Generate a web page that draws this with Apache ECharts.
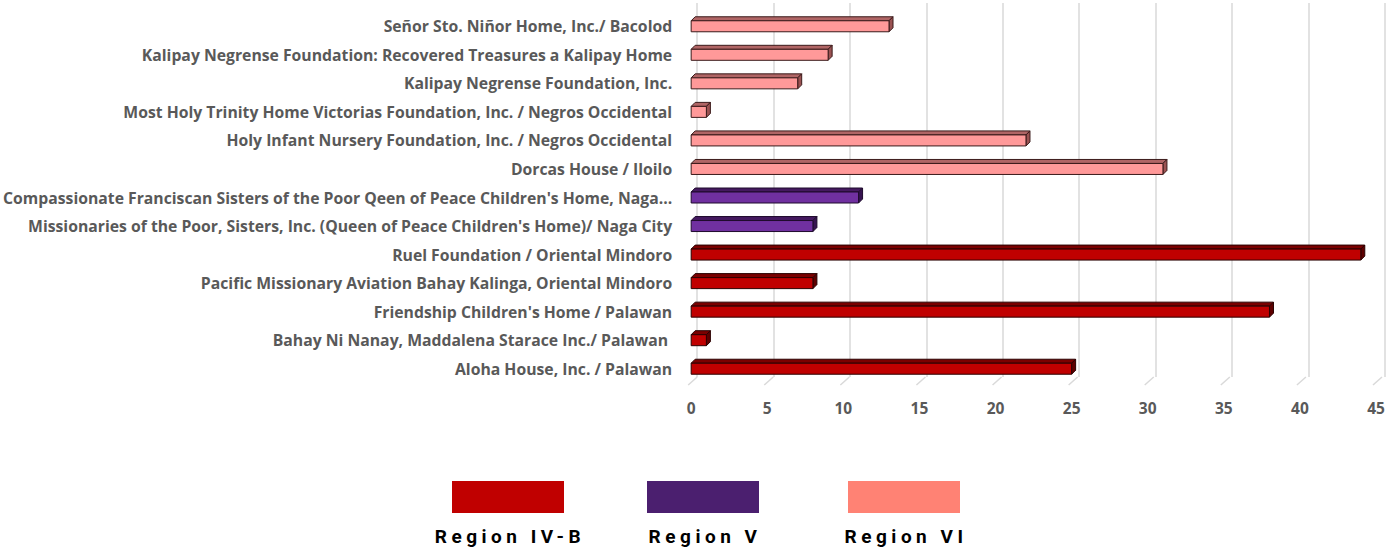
<!DOCTYPE html>
<html>
<head>
<meta charset="utf-8">
<script src="https://cdn.jsdelivr.net/npm/echarts@6/dist/echarts.min.js"></script>
<style>
  html, body { margin: 0; padding: 0; background: #fff; }
  #container { width: 1400px; height: 551px; }
</style>
</head>
<body>
<div id="container"></div>
<script>
let chart = echarts.init(document.getElementById('container'), null, {renderer: 'svg'});

// bottom to top, as the axis reads
var homes = [
    'Aloha House, Inc. / Palawan',
    'Bahay Ni Nanay, Maddalena Starace Inc./ Palawan ',
    "Friendship Children's Home / Palawan",
    'Pacific Missionary Aviation Bahay Kalinga, Oriental Mindoro',
    'Ruel Foundation / Oriental Mindoro',
    "Missionaries of the Poor, Sisters, Inc. (Queen of Peace Children's Home)/ Naga City",
    "Compassionate Franciscan Sisters of the Poor Qeen of Peace Children's Home, Naga...",
    'Dorcas House / Iloilo',
    'Holy Infant Nursery Foundation, Inc. / Negros Occidental',
    'Most Holy Trinity Home Victorias Foundation, Inc. / Negros Occidental',
    'Kalipay Negrense Foundation, Inc.',
    'Kalipay Negrense Foundation: Recovered Treasures a Kalipay Home',
    'Señor Sto. Niñor Home, Inc./ Bacolod'
];
var regionIVB = [25, 1, 38, 8, 44, null, null, null, null, null, null, null, null];
var regionV   = [null, null, null, null, null, 8, 11, null, null, null, null, null, null];
var regionVI  = [null, null, null, null, null, null, null, 31, 22, 1, 7, 9, 13];
var xTicks = [0, 5, 10, 15, 20, 25, 30, 35, 40, 45];

var regions = ['Region IV-B', 'Region V', 'Region VI'];
var legendColors = ['#C00000', '#4B1F6F', '#FF8274'];
// front, top, side, edge
var boxColors = [
    ['#C00000', '#7A0000', '#5E0000', '#2A0000'],
    ['#7030A0', '#44195F', '#361350', '#1E0A2C'],
    ['#FF9999', '#B06565', '#9A5252', '#3A1A1A']
];

var labelFont = '"Open Sans", Lato, sans-serif';

function box(colors) {
    return function (params, api) {
        var v = api.value(0);
        var idx = api.value(1);
        var p0 = api.coord([0, idx]);
        var p1 = api.coord([v, idx]);
        var h = 11, d = 4;
        var x0 = p0[0], x1 = p1[0];
        var yTop = p0[1] - h / 2;
        var style = {stroke: colors[3], lineWidth: 1};
        return {
            type: 'group',
            children: [
                {type: 'polygon', shape: {points: [[x0, yTop], [x1, yTop], [x1 + d, yTop - d], [x0 + d, yTop - d]]},
                 style: Object.assign({fill: colors[1]}, style)},
                {type: 'polygon', shape: {points: [[x1, yTop], [x1 + d, yTop - d], [x1 + d, yTop - d + h], [x1, yTop + h]]},
                 style: Object.assign({fill: colors[2]}, style)},
                {type: 'rect', shape: {x: x0, y: yTop, width: x1 - x0, height: h},
                 style: Object.assign({fill: colors[0]}, style)}
            ]
        };
    };
}

function toData(arr) {
    let out = [];
    arr.forEach((v, i) => {
        if (v != null) out.push([v, i]);
    });
    return out;
}

var series = [];
[regionIVB, regionV, regionVI].forEach((arr, k) => {
    series.push({
        name: regions[k],
        type: 'custom',
        xAxisIndex: 0,
        yAxisIndex: 0,
        animation: false,
        renderItem: box(boxColors[k]),
        encode: {x: 0, y: 1},
        data: toData(arr),
        z: 3
    });
});
// slanted floor lines under the back wall gridlines
series.push({
    type: 'custom',
    xAxisIndex: 0,
    yAxisIndex: 0,
    animation: false,
    silent: true,
    renderItem: function (params, api) {
        var p = api.coord([api.value(0), 0]);
        var bottom = params.coordSys.y + params.coordSys.height;
        return {
            type: 'line',
            shape: {x1: p[0] + 6, y1: bottom - 6, x2: p[0] - 3, y2: bottom + 2},
            style: {stroke: '#D9D9D9', lineWidth: 1.5}
        };
    },
    data: xTicks.map(t => [t]),
    z: 1
});

var legendGraphics = [];
var legendX = [452, 647, 848];
regions.forEach((r, k) => {
    legendGraphics.push({
        type: 'rect', left: legendX[k], top: 481,
        shape: {width: 112, height: 32},
        style: {fill: legendColors[k]}
    });
    legendGraphics.push({
        type: 'text', x: legendX[k] + 58, y: 536,
        style: {
            text: r, fill: '#000', align: 'center', verticalAlign: 'middle',
            font: 'bold 19px Roboto, sans-serif'
        }
    });
});

var option = {
    animation: false,
    grid: [
        {left: 691, width: 685, top: 12, height: 371, containLabel: false},
        {left: 697, width: 688, top: 3, height: 374, containLabel: false}
    ],
    xAxis: [{
        gridIndex: 0,
        type: 'value', min: 0, max: 45, interval: 5,
        axisLine: {show: false}, axisTick: {show: false}, splitLine: {show: false},
        axisLabel: {color: '#595959', fontFamily: labelFont, fontSize: 15.5, fontWeight: 'bold', margin: 17}
    }, {
        gridIndex: 1,
        type: 'value', min: 0, max: 45, interval: 5,
        axisLine: {show: false}, axisTick: {show: false}, axisLabel: {show: false},
        splitLine: {show: true, lineStyle: {color: '#D9D9D9', width: 1.5}}
    }],
    yAxis: [{
        gridIndex: 0,
        type: 'category',
        data: homes,
        axisLine: {show: false}, axisTick: {show: false},
        axisLabel: {
            interval: 0, color: '#595959', fontFamily: labelFont, fontSize: 15.75, fontWeight: 'bold', margin: 19
        }
    }, {
        gridIndex: 1,
        type: 'category',
        data: homes,
        show: false
    }],
    graphic: legendGraphics,
    series: series
};
chart.setOption(option);

// spaced-out lettering for the legend names
function spaceLegend() {
    document.querySelectorAll('#container text').forEach(t => {
        if (regions.indexOf(t.textContent) >= 0) {
            t.setAttribute('letter-spacing', '4.5');
            t.style.letterSpacing = '4.5px';
        }
    });
}
spaceLegend();
chart.on('finished', spaceLegend);
</script>
</body>
</html>
